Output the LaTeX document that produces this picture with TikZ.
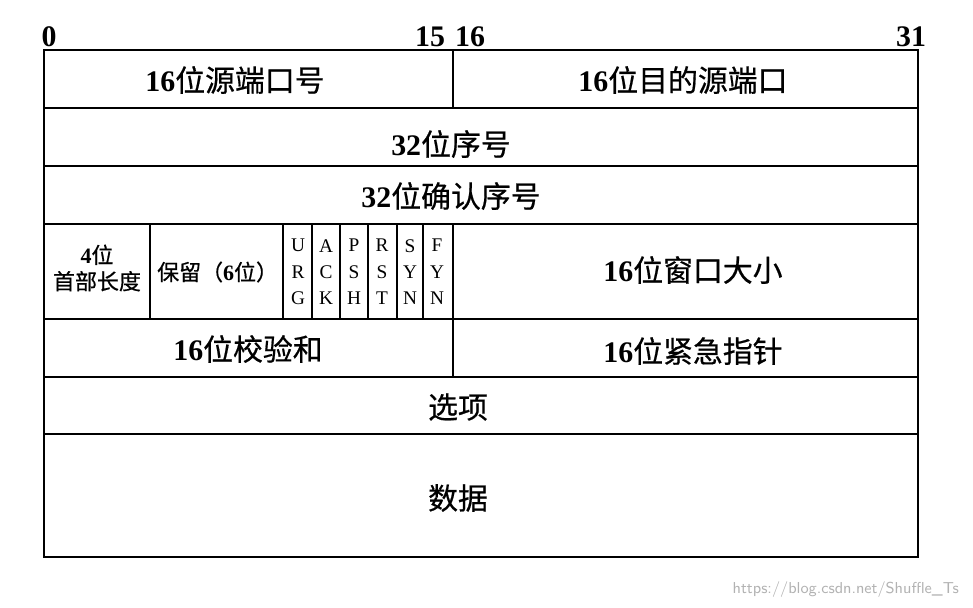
\documentclass[tikz,border=0pt]{standalone}
\usepackage{fontspec}
\setmainfont{Liberation Serif}
\newfontfamily\cjkbase[FakeBold=0.6]{Noto Sans CJK SC}
\newcommand{\cjk}{\mdseries\cjkbase}
\tikzset{
  cell/.style={draw, line width=1.3pt},
  big/.style={font=\fontsize{17}{20}\selectfont\bfseries},
  small/.style={font=\fontsize{12.5}{15}\selectfont\bfseries, align=center},
  flag/.style={font=\fontsize{11}{15}\selectfont, align=center}
}
\begin{document}
\begin{tikzpicture}[x=0.02cm, y=-0.02cm]
  \useasboundingbox (0,0) rectangle (973,608);
  % bit numbers
  \node[big] (b0) at (49,37) {0};
  \node[big] (b15) at (430,37) {15};
  \node[big] (b16) at (470,37) {16};
  \node[big] (b31) at (911,37) {31};

  % rows
  \draw[cell] (44,50) rectangle (918,557);
  \foreach \y in {108,166,224,319,377,434}
    \draw[cell] (44,\y) -- (918,\y);
  \draw[cell] (453,50) -- (453,108);
  \draw[cell] (453,224) -- (453,377);
  \foreach \x in {150,283,312,340,368,397,423}
    \draw[cell] (\x,224) -- (\x,319);

  % texts
  \node[big] (src) at (235,80) {16{\cjk 位源端口号}};
  \node[big] (dst) at (683,80) {16{\cjk 位目的源端口}};
  \node[big] (seq) at (451,144) {32{\cjk 位序号}};
  \node[big] (ack) at (451,196) {32{\cjk 位确认序号}};
  \node[small] (hlen) at (97,268) {4{\cjk 位}\\{\cjk 首部长度}};
  \node[small, anchor=west] (res) at (151,272) {{\cjk 保留（}6{\cjk 位）}};
  \node[flag] (urg) at (298,272) {U\\R\\G};
  \node[flag] (ackf) at (326,272) {A\\C\\K};
  \node[flag] (psh) at (354,272) {P\\S\\H};
  \node[flag] (rst) at (382,272) {R\\S\\T};
  \node[flag] (syn) at (410,272) {S\\Y\\N};
  \node[flag] (fyn) at (437,272) {F\\Y\\N};
  \node[big] (win) at (693,270) {16{\cjk 位窗口大小}};
  \node[big] (chk) at (248,349) {16{\cjk 位校验和}};
  \node[big] (urp) at (693,351) {16{\cjk 位紧急指针}};
  \node[big] (opt) at (458,407) {\cjk 选项};
  \node[big] (data) at (458,498) {\cjk 数据};
  \node[font=\fontsize{9}{11}\selectfont\sffamily, text=gray!60, anchor=east] (wm) at (965,590) {https://blog.csdn.net/Shuffle\_Ts};
\end{tikzpicture}
\end{document}
